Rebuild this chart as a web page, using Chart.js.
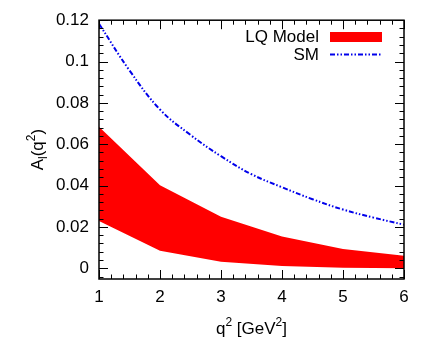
<!DOCTYPE html>
<html>
<head>
<meta charset="utf-8">
<script src="https://cdn.jsdelivr.net/npm/chart.js@4.4.1/dist/chart.umd.min.js"></script>
<style>
  html, body { margin: 0; padding: 0; background: #fff; }
  #wrap { width: 436px; height: 354px; }
</style>
</head>
<body>
<div id="wrap"><canvas id="grafico"></canvas></div>
<script>
// datos
const q2 = [1, 2, 3, 4, 5, 6];
const lqSuperior = [0.0684, 0.0402, 0.0249, 0.0153, 0.0093, 0.0061];
const lqInferior = [0.0228, 0.0085, 0.0032, 0.0011, 0.0003, 0.0];
const q2SM = [1, 1.5, 2, 2.5, 3, 3.5, 4, 4.5, 5, 5.5, 6];
const smValores = [0.1183, 0.0957, 0.0768, 0.0645, 0.0542, 0.0455, 0.0392, 0.0334, 0.0284, 0.0245, 0.0211];
const xTicks = [1, 2, 3, 4, 5, 6];
const yTicks = [0, 0.02, 0.04, 0.06, 0.08, 0.1, 0.12];

const FUENTE = "'Liberation Sans', Arial, sans-serif";
const AZUL = "rgb(0,0,235)";
const ROJO = "#ff0000";
const DASH = [5, 2, 1.5, 2, 1.5, 2];

// ticks hacia adentro, marco, leyenda y titulos de ejes
const decoracion = {
    id: "decoracion",
    afterDraw(chart) {
        const { ctx, chartArea: a, scales: { x, y } } = chart;
        ctx.save();
        ctx.strokeStyle = "#000";
        ctx.lineWidth = 1;
        ctx.beginPath();
        // ticks en x (mayores y menores)
        for (let v = 1; v <= 6.0001; v += 0.2) {
            const px = Math.round(x.getPixelForValue(v)) + 0.5;
            const mayor = Math.abs(v - Math.round(v)) < 1e-6;
            const len = mayor ? 9 : 4.5;
            ctx.moveTo(px, a.bottom); ctx.lineTo(px, a.bottom - len);
            ctx.moveTo(px, a.top); ctx.lineTo(px, a.top + len);
        }
        // ticks en y
        for (let i = -1; i <= 30; i++) {
            const v = i * 0.004;
            const py = Math.round(y.getPixelForValue(v)) + 0.5;
            if (py < a.top || py > a.bottom) continue;
            const len = (i % 5 === 0) ? 9 : 4.5;
            ctx.moveTo(a.left, py); ctx.lineTo(a.left + len, py);
            ctx.moveTo(a.right, py); ctx.lineTo(a.right - len, py);
        }
        ctx.stroke();
        ctx.lineWidth = 1.5;
        ctx.strokeRect(a.left, a.top, a.right - a.left, a.bottom - a.top);

        // leyenda
        ctx.fillStyle = "#000";
        ctx.font = "17px " + FUENTE;
        ctx.textAlign = "right";
        ctx.textBaseline = "middle";
        ctx.fillText("LQ Model", 319, 37);
        ctx.fillText("SM", 319, 55);
        ctx.fillStyle = ROJO;
        ctx.fillRect(330, 32, 52, 10);
        ctx.strokeStyle = AZUL;
        ctx.lineWidth = 2;
        ctx.setLineDash(DASH);
        ctx.beginPath();
        ctx.moveTo(330, 54.5); ctx.lineTo(382, 54.5);
        ctx.stroke();
        ctx.setLineDash([]);

        // titulo eje x: q^2 [GeV^2]
        ctx.fillStyle = "#000";
        ctx.textAlign = "left";
        ctx.textBaseline = "alphabetic";
        const partesX = [["q", 0], ["2", 1], [" [GeV", 0], ["2", 1], ["]", 0]];
        let ancho = 0;
        partesX.forEach(([t, s]) => {
            ctx.font = (s ? "12px " : "17px ") + FUENTE;
            ancho += ctx.measureText(t).width;
        });
        let cx = (a.left + a.right) / 2 - ancho / 2;
        const base = 334;
        partesX.forEach(([t, s]) => {
            ctx.font = (s ? "12px " : "17px ") + FUENTE;
            ctx.fillText(t, cx, s ? base - 8 : base);
            cx += ctx.measureText(t).width;
        });

        // titulo eje y: A_l(q^2)
        ctx.translate(43, (a.top + a.bottom) / 2);
        ctx.rotate(-Math.PI / 2);
        const partesY = [["A", 0], ["l", -1], ["(q", 0], ["2", 1], [")", 0]];
        ancho = 0;
        partesY.forEach(([t, s]) => {
            ctx.font = (s ? "12px " : "17px ") + FUENTE;
            ancho += ctx.measureText(t).width;
        });
        cx = -ancho / 2;
        partesY.forEach(([t, s]) => {
            ctx.font = (s ? "12px " : "17px ") + FUENTE;
            const dy = s === 1 ? -8 : (s === -1 ? 4 : 0);
            ctx.fillText(t, cx, dy);
            cx += ctx.measureText(t).width;
        });
        ctx.restore();
    }
};

const ctxG = document.getElementById("grafico").getContext("2d");
new Chart(ctxG, {
    type: "line",
    data: {
        datasets: [
            {
                label: "LQ inferior",
                data: q2.map((v, i) => ({ x: v, y: lqInferior[i] })),
                borderWidth: 0,
                pointRadius: 0,
                fill: false
            },
            {
                label: "LQ Model",
                data: q2.map((v, i) => ({ x: v, y: lqSuperior[i] })),
                borderWidth: 0,
                pointRadius: 0,
                backgroundColor: ROJO,
                fill: "-1"
            },
            {
                label: "SM",
                data: q2SM.map((v, i) => ({ x: v, y: smValores[i] })),
                borderColor: AZUL,
                borderWidth: 2,
                borderDash: DASH,
                pointRadius: 0,
                tension: 0.4,
                fill: false
            }
        ]
    },
    options: {
        responsive: true,
        maintainAspectRatio: false,
        animation: false,
        layout: { padding: { top: 20, right: 32, left: 0, bottom: 0 } },
        plugins: {
            legend: { display: false },
            tooltip: { enabled: false }
        },
        scales: {
            x: {
                type: "linear",
                min: 1,
                max: 6,
                afterBuildTicks: s => { s.ticks = xTicks.map(v => ({ value: v })); },
                afterFit: s => { s.height = 75; },
                grid: { display: false, drawTicks: false },
                border: { display: false },
                ticks: { color: "#000", padding: 8, font: { family: FUENTE, size: 17 }, maxRotation: 0 }
            },
            y: {
                type: "linear",
                min: -0.0052,
                max: 0.12,
                afterBuildTicks: s => { s.ticks = yTicks.map(v => ({ value: v })); },
                afterFit: s => { s.width = 99; },
                grid: { display: false, drawTicks: false },
                border: { display: false },
                ticks: {
                    color: "#000",
                    padding: 10,
                    font: { family: FUENTE, size: 17 },
                    callback: v => String(+v.toFixed(3))
                }
            }
        }
    },
    plugins: [decoracion]
});
</script>
</body>
</html>
